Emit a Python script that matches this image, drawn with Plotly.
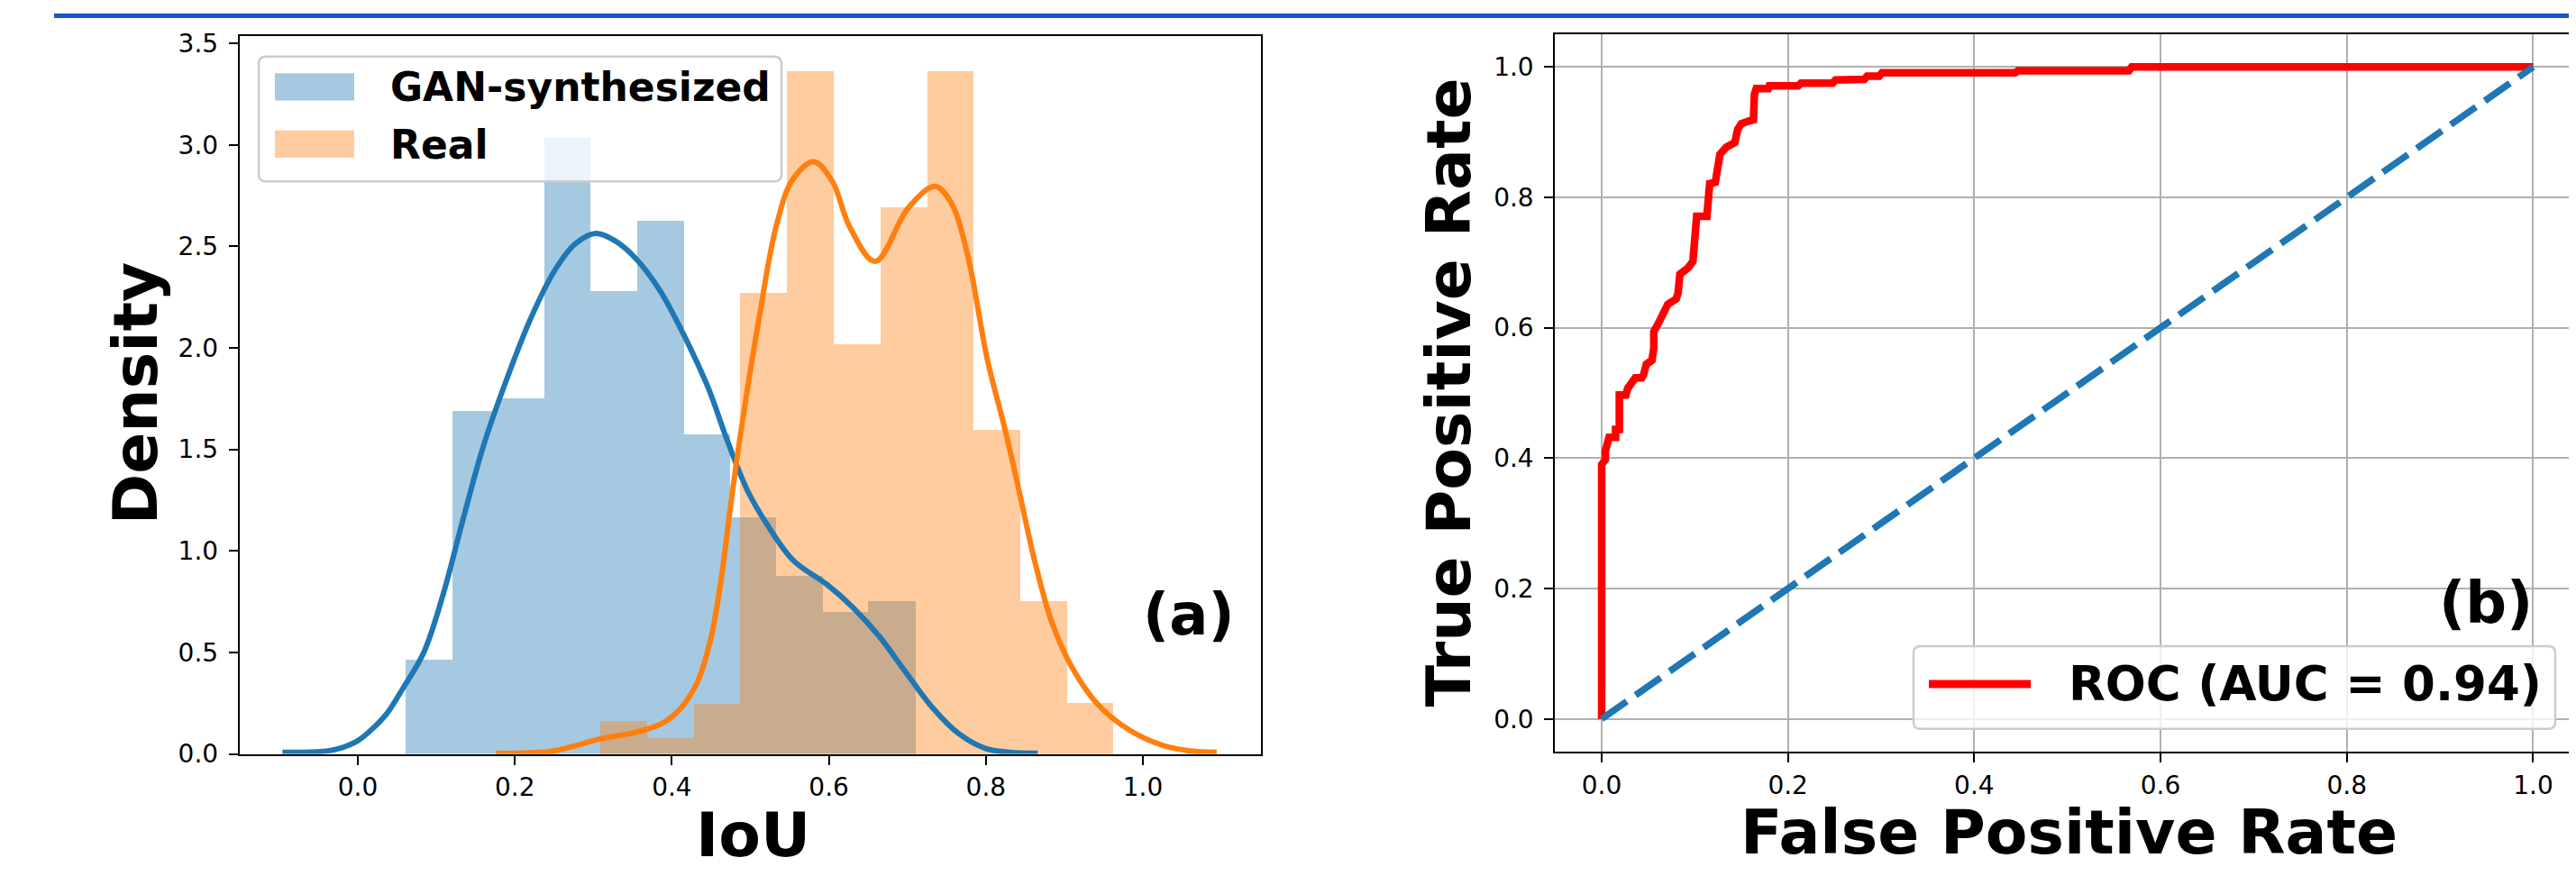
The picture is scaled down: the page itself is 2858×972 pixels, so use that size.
import numpy as np
import plotly.graph_objects as go

# The page body adds an 8px margin, so the figure is sized to fill the rest
OFF = 8
W, H = 2858, 972
FW, FH = W - OFF, H - OFF

# ---------------- data ----------------
gan_edges = [0.061, 0.120, 0.179, 0.237, 0.296, 0.355, 0.415, 0.474, 0.532, 0.592, 0.650, 0.710]
gan_density = [0.467, 1.693, 1.755, 3.038, 2.281, 2.627, 1.575, 1.167, 0.877, 0.703, 0.756]

real_edges = [0.309, 0.368, 0.428, 0.487, 0.546, 0.606, 0.665, 0.725, 0.784, 0.843, 0.903, 0.962]
real_density = [0.163, 0.079, 0.247, 2.273, 3.365, 2.018, 2.694, 3.365, 1.599, 0.756, 0.252]

gan_kde_x = [-0.096, -0.060, -0.040, -0.020, 0.000, 0.019, 0.038, 0.057, 0.084, 0.109, 0.134,
             0.160, 0.190, 0.221, 0.251, 0.277, 0.303, 0.328, 0.354, 0.385, 0.415, 0.446,
             0.471, 0.496, 0.522, 0.555, 0.597, 0.631, 0.665, 0.698, 0.732, 0.766, 0.800,
             0.830, 0.866]
gan_kde_y = [0.008, 0.009, 0.014, 0.031, 0.065, 0.125, 0.204, 0.320, 0.500, 0.790, 1.155,
             1.517, 1.849, 2.152, 2.383, 2.513, 2.564, 2.527, 2.441, 2.282, 2.066, 1.806,
             1.540, 1.300, 1.126, 0.952, 0.836, 0.720, 0.575, 0.402, 0.228, 0.098, 0.026,
             0.008, 0.003]

real_kde_x = [0.176, 0.244, 0.277, 0.311, 0.353, 0.387, 0.412, 0.433, 0.450, 0.463, 0.475,
              0.488, 0.512, 0.533, 0.554, 0.581, 0.605, 0.626, 0.659, 0.701, 0.735, 0.755,
              0.776, 0.802, 0.825, 0.842, 0.863, 0.884, 0.909, 0.943, 0.985, 1.027, 1.060,
              1.094]
real_kde_y = [0.003, 0.011, 0.040, 0.076, 0.105, 0.149, 0.228, 0.358, 0.575, 0.865, 1.227,
              1.589, 2.167, 2.600, 2.830, 2.917, 2.816, 2.600, 2.426, 2.689, 2.796, 2.720,
              2.470, 1.940, 1.589, 1.300, 0.937, 0.648, 0.431, 0.242, 0.112, 0.040, 0.015,
              0.008]

roc_fpr = [0.000, 0.000, 0.004, 0.004, 0.008, 0.015, 0.015, 0.019, 0.019, 0.026,
           0.028, 0.032, 0.036, 0.043, 0.045, 0.048, 0.054, 0.056, 0.056, 0.061,
           0.065, 0.071, 0.080, 0.082, 0.084, 0.093, 0.098, 0.100, 0.102, 0.113,
           0.114, 0.116, 0.122, 0.124, 0.127, 0.134, 0.143, 0.146, 0.150, 0.158,
           0.163, 0.164, 0.166, 0.179, 0.180, 0.211, 0.214, 0.248, 0.251, 0.282,
           0.285, 0.298, 0.301, 0.444, 0.447, 0.566, 0.569, 1.000]
roc_tpr = [0.000, 0.390, 0.398, 0.411, 0.432, 0.432, 0.444, 0.444, 0.497, 0.497,
           0.507, 0.515, 0.523, 0.523, 0.528, 0.544, 0.550, 0.569, 0.594, 0.607,
           0.619, 0.636, 0.644, 0.653, 0.682, 0.692, 0.702, 0.738, 0.771, 0.771,
           0.805, 0.821, 0.823, 0.841, 0.866, 0.877, 0.884, 0.904, 0.913, 0.917,
           0.919, 0.958, 0.967, 0.967, 0.971, 0.971, 0.975, 0.975, 0.980, 0.981,
           0.986, 0.986, 0.991, 0.991, 0.994, 0.994, 1.000, 1.000]

chance_x = [0.0, 1.0]
chance_y = [0.0, 1.0]

xticks_a = [0.0, 0.2, 0.4, 0.6, 0.8, 1.0]
yticks_a = [0.0, 0.5, 1.0, 1.5, 2.0, 2.5, 3.0, 3.5]
ticks_b = [0.0, 0.2, 0.4, 0.6, 0.8, 1.0]

legend_a = ["GAN-synthesized", "Real"]
legend_b = "ROC (AUC = 0.94)"

# ---------------- styling ----------------
FONT = "DejaVu Sans"
BLUE = "#1f77b4"
ORANGE = "#ff7f0e"
BLUE_FILL = "rgba(31,119,180,0.4)"
ORANGE_FILL = "rgba(255,127,14,0.4)"


def fx(p):
    """screen pixel x -> paper x"""
    return (p - OFF) / FW


def fy(p):
    """screen pixel y -> paper y"""
    return 1 - (p - OFF) / FH


fig = go.Figure()

for edges, dens, fill in [(gan_edges, gan_density, BLUE_FILL), (real_edges, real_density, ORANGE_FILL)]:
    e = np.array(edges)
    fig.add_trace(go.Bar(x=(e[:-1] + e[1:]) / 2, y=dens, width=np.diff(e),
                         marker=dict(color=fill, line=dict(width=0)),
                         xaxis="x", yaxis="y", showlegend=False, hoverinfo="skip"))

fig.add_trace(go.Scatter(x=gan_kde_x, y=gan_kde_y, mode="lines",
                         line=dict(color=BLUE, width=6, shape="spline", smoothing=1.0),
                         xaxis="x", yaxis="y", showlegend=False))
fig.add_trace(go.Scatter(x=real_kde_x, y=real_kde_y, mode="lines",
                         line=dict(color=ORANGE, width=6, shape="spline", smoothing=1.0),
                         xaxis="x", yaxis="y", showlegend=False))

fig.add_trace(go.Scatter(x=roc_fpr, y=roc_tpr, mode="lines",
                         line=dict(color="#ff0000", width=8.5),
                         xaxis="x2", yaxis="y2", showlegend=False))
fig.add_trace(go.Scatter(x=chance_x, y=chance_y, mode="lines",
                         line=dict(color=BLUE, width=7.5, dash="34px,12px"),
                         xaxis="x2", yaxis="y2", showlegend=False))

tickfont = dict(family=FONT, size=28, color="black")
common = dict(ticks="outside", ticklen=10, tickwidth=2, tickcolor="black",
              showline=True, linecolor="black", linewidth=2, zeroline=False,
              tickfont=tickfont, tickformat=".1f")

fig.update_layout(
    width=FW, height=FH, autosize=False,
    margin=dict(l=0, r=0, t=0, b=0),
    paper_bgcolor="white", plot_bgcolor="white",
    barmode="overlay", bargap=0,
    showlegend=False,
    xaxis=dict(domain=[fx(265.7), fx(1398.7)], range=[-0.1507, 1.150], anchor="y",
               tickvals=xticks_a, mirror=True, showgrid=False, ticklabelstandoff=1, **common),
    yaxis=dict(domain=[fy(850.5), fy(33.3)], range=[0, 3.5377], anchor="x",
               tickvals=yticks_a, mirror=True, showgrid=False, ticklabelstandoff=6, **common),
    xaxis2=dict(domain=[fx(1725.3), 1.0], range=[-0.05, 1.046], anchor="y2",
                tickvals=ticks_b, mirror=True, showgrid=True, gridcolor="#b0b0b0", gridwidth=2,
                ticklabelstandoff=1, **common),
    yaxis2=dict(domain=[fy(848.3), fy(31.7)], range=[-0.0507, 1.050], anchor="x2",
                tickvals=ticks_b, mirror=False, showgrid=True, gridcolor="#b0b0b0", gridwidth=2,
                ticklabelstandoff=6, **common),
)


def rrect(x0, y0, x1, y1, r=8):
    # rounded rectangle path in paper coords from a screen-pixel box
    X0, X1 = fx(x0), fx(x1)
    Y0, Y1 = fy(y0), fy(y1)
    rx, ry = r / FW, r / FH
    return (f"M{X0+rx},{Y0} L{X1-rx},{Y0} Q{X1},{Y0} {X1},{Y0-ry} "
            f"L{X1},{Y1+ry} Q{X1},{Y1} {X1-rx},{Y1} L{X0+rx},{Y1} "
            f"Q{X0},{Y1} {X0},{Y1+ry} L{X0},{Y0-ry} Q{X0},{Y0} {X0+rx},{Y0} Z")


shapes = [
    # blue strip along the top
    dict(type="rect", xref="paper", yref="paper", x0=fx(60), x1=1.0, y0=fy(13), y1=1.0,
         fillcolor="#1456cc", line=dict(width=0), layer="above"),
    # legend (a)
    dict(type="path", xref="paper", yref="paper", path=rrect(287, 57, 867, 199),
         fillcolor="rgba(255,255,255,0.8)", line=dict(color="#cccccc", width=2.5), layer="above"),
    dict(type="rect", xref="paper", yref="paper", x0=fx(305), x1=fx(393), y0=fy(107), y1=fy(76),
         fillcolor=BLUE_FILL, line=dict(width=0), layer="above"),
    dict(type="rect", xref="paper", yref="paper", x0=fx(305), x1=fx(393), y0=fy(172), y1=fy(141),
         fillcolor=ORANGE_FILL, line=dict(width=0), layer="above"),
    # legend (b)
    dict(type="path", xref="paper", yref="paper", path=rrect(2123, 728, 2835, 822),
         fillcolor="rgba(255,255,255,0.8)", line=dict(color="#cccccc", width=2.5), layer="above"),
    dict(type="line", xref="paper", yref="paper", x0=fx(2140), x1=fx(2253), y0=fy(771), y1=fy(771),
         line=dict(color="#ff0000", width=9), layer="above"),
]


def txt(text, x, y, size, angle=0, xanchor="center"):
    return dict(text=text, xref="paper", yref="paper", x=fx(x), y=fy(y),
                xanchor=xanchor, yanchor="middle", showarrow=False, textangle=angle,
                font=dict(family=FONT, size=size, color="black", weight="bold"))


annotations = [
    txt(legend_a[0], 431, 92, 44, xanchor="left"),
    txt(legend_a[1], 431, 157, 44, xanchor="left"),
    txt(legend_b, 2293, 770, 53, xanchor="left"),
    txt("(a)", 1319, 692, 64),
    txt("(b)", 2758, 679, 64),
    txt("Density", 150, 440, 68, angle=-90),
    txt("IoU", 835, 943, 68),
    txt("True Positive Rate", 1607, 439, 68, angle=-90),
    txt("False Positive Rate", 2295, 940, 68),
]

fig.update_layout(shapes=shapes, annotations=annotations)

fig.write_html("out.html")
